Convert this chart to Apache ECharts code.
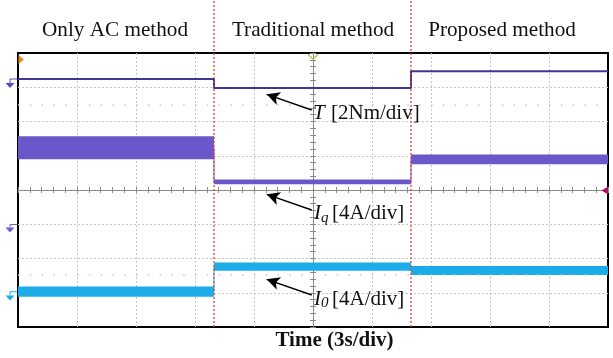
<!DOCTYPE html>
<html><head><meta charset="utf-8">
<script src="https://cdn.jsdelivr.net/npm/echarts@6/dist/echarts.min.js"></script>
<style>html,body{margin:0;padding:0;background:#fff}#c{width:613px;height:358px}</style>
</head><body><div id="c"></div>
<script>
// ---- data (x in time divisions, 3 s/div, centred on 0; y in screen divisions) ----
const segmentTitles = ['Only AC method', 'Traditional method', 'Proposed method'];
const segStart = [-5, -1.678, 1.661];
const segEnd = [-1.678, 1.661, 5];
const switchTimes = [-1.678, 1.661];
const torqueLevel = [3.24, 2.98, 3.47];
const iqHigh = [1.57, 0.31, 1.04];
const iqLow = [0.90, 0.17, 0.75];
const i0High = [-2.82, -2.12, -2.22];
const i0Low = [-3.12, -2.36, -2.48];
const cursorRows = [2.48, -2.48];
const xLabel = 'Time (3s/div)';

const FONT = '"Liberation Serif", "Times New Roman", serif';
const chart = echarts.init(document.getElementById('c'), null, {renderer: 'canvas'});

const gridLine = {show: true, showMinLine: false, showMaxLine: false, lineStyle: {color: '#c6c6c6', type: [2, 2], width: 1}};
const tickStyle = {color: '#8a8a8a', width: 1};
function centerAxis(extra) {
  return Object.assign({
    type: 'value', gridIndex: 0,
    axisLine: {show: true, onZero: true, onZeroAxisIndex: 0, lineStyle: {color: '#8a8a8a', width: 1}},
    axisTick: {show: true, length: 3, lineStyle: tickStyle},
    minorTick: {show: true, splitNumber: 5, length: 3, lineStyle: tickStyle},
    axisLabel: {show: false},
    minorSplitLine: {show: false}
  }, extra);
}

function stepData(starts, levels) {
  const d = starts.map((s, i) => [s, levels[i]]);
  d.push([segEnd[segEnd.length - 1], levels[levels.length - 1]]);
  return d;
}
function bandSeries(lo, hi, color) {
  return {
    type: 'custom', xAxisIndex: 0, yAxisIndex: 0, z: 4, silent: true,
    data: segStart.map((s, i) => [s, segEnd[i], lo[i], hi[i]]),
    encode: {x: [0, 1], y: [2, 3]},
    renderItem: function (params, api) {
      const p0 = api.coord([api.value(0), api.value(3)]);
      const p1 = api.coord([api.value(1), api.value(2)]);
      return {type: 'rect', shape: {x: p0[0], y: p0[1], width: p1[0] - p0[0], height: p1[1] - p0[1]},
              style: {fill: color}};
    }
  };
}
function connector(lo, hi, color) {
  return {
    type: 'line', step: 'end', xAxisIndex: 0, yAxisIndex: 0, z: 4, silent: true,
    symbol: 'none', data: stepData(segStart, lo.map((v, i) => (v + hi[i]) / 2)),
    lineStyle: {color: color, width: 1}
  };
}

const arrowStyle = {color: '#000', width: 1.4, type: 'solid'};
const arrows = [
  [[-0.022, 2.336], [-0.785, 2.794]],
  [[-0.022, -0.584], [-0.785, -0.126]],
  [[-0.022, -3.066], [-0.785, -2.607]]
].map(a => [{coord: a[0], symbol: 'none'}, {coord: a[1], symbol: 'arrow', symbolSize: [10, 13]}]);

const series = [
  {
    type: 'line', step: 'end', xAxisIndex: 0, yAxisIndex: 0, z: 5, silent: true,
    symbol: 'none', data: stepData(segStart, torqueLevel),
    lineStyle: {color: '#3f3795', width: 2},
    markLine: {silent: true, animation: false, label: {show: false}, lineStyle: arrowStyle,
               emphasis: {disabled: true}, data: arrows}
  },
  bandSeries(iqLow, iqHigh, '#6a58cb'),
  Object.assign(connector(iqLow, iqHigh, '#6a58cb'), {
    markLine: {silent: true, animation: false, symbol: 'none', label: {show: false},
               lineStyle: {color: '#c8c8c8', type: [1.5, 10.3], width: 1.5},
               data: cursorRows.map(v => ({yAxis: v}))}
  }),
  bandSeries(i0Low, i0High, '#1cade9'),
  connector(i0Low, i0High, '#1cade9'),
].concat(switchTimes.map(t => ({
  type: 'line', xAxisIndex: 2, yAxisIndex: 2, symbol: 'none', silent: true, z: 6,
  data: [[t, 0], [t, 1]], lineStyle: {color: '#ee3b3b', width: 1.3, type: [2, 2]}
})));

function txt(x, y, text, size, opts) {
  return Object.assign({type: 'text', x: x, y: y, z: 100,
    style: Object.assign({text: text, font: size + 'px ' + FONT, fill: '#111', align: 'left', verticalAlign: 'middle'}, opts || {})});
}
const titleX = [115, 313, 502];
const graphic = [
  // title per section
  ...segmentTitles.map((t, i) => txt(titleX[i], 30.5, t, 21.2, {align: 'center'})),
  txt(334.5, 340.7, xLabel, 21, {align: 'center', font: 'bold 21px ' + FONT}),
  // trace labels
  txt(313, 113.5, 'T', 21, {font: 'italic 21px ' + FONT}),
  txt(331, 113.5, '[2Nm/div]', 21),
  txt(314, 213.5, 'I', 21, {font: 'italic 21px ' + FONT}),
  txt(321, 218, 'q', 15, {font: 'italic 15px ' + FONT}),
  txt(332, 213.5, '[4A/div]', 21),
  txt(314, 299, 'I', 21, {font: 'italic 21px ' + FONT}),
  txt(321, 303.5, '0', 15, {font: 'italic 15px ' + FONT}),
  txt(332, 299, '[4A/div]', 21),
  // scope markers
  {type: 'polygon', z: 100, shape: {points: [[18.5, 55], [24, 59.5], [18.5, 64]]}, style: {fill: '#f08c1a'}},
  {type: 'polyline', z: 100, shape: {points: [[17, 79], [10, 79], [10, 83]]}, style: {stroke: '#5a4bb0', lineWidth: 1, fill: null}},
  {type: 'polygon', z: 100, shape: {points: [[5.5, 83], [14.5, 83], [10, 88]]}, style: {fill: '#5a4bb0'}},
  {type: 'polyline', z: 100, shape: {points: [[17, 224.5], [10, 224.5], [10, 227.5]]}, style: {stroke: '#6e5fd0', lineWidth: 1, fill: null}},
  {type: 'polygon', z: 100, shape: {points: [[5.5, 227.5], [14.5, 227.5], [10, 232.5]]}, style: {fill: '#6e5fd0'}},
  {type: 'polyline', z: 100, shape: {points: [[17, 291.7], [10, 291.7], [10, 295.5]]}, style: {stroke: '#1cade9', lineWidth: 1, fill: null}},
  {type: 'polygon', z: 100, shape: {points: [[5.5, 295.5], [14.5, 295.5], [10, 300.5]]}, style: {fill: '#1cade9'}},
  {type: 'polyline', z: 100, shape: {points: [[308, 54.5], [313, 59], [318, 54.5]]}, style: {stroke: '#b9b850', lineWidth: 1.3, fill: null}},
  {type: 'polygon', z: 100, shape: {points: [[608, 186.5], [601.5, 190.5], [608, 194.5]]}, style: {fill: '#b0105c'}}
];

chart.setOption({
  animation: false,
  backgroundColor: '#fff',
  grid: [
    {left: 18, top: 53, width: 590, height: 274, show: true, borderColor: '#000', borderWidth: 2,
     backgroundColor: 'transparent', containLabel: false, outerBoundsMode: 'none'},
    {left: 18, top: 0, width: 590, height: 327, show: false, containLabel: false, outerBoundsMode: 'none'}
  ],
  xAxis: [
    centerAxis({min: -5, max: 5, interval: 1, position: 'bottom', splitLine: gridLine}),
    centerAxis({min: -5, max: 5, interval: 1, position: 'top', splitLine: {show: false}}),
    {type: 'value', gridIndex: 1, min: -5, max: 5, show: false}
  ],
  yAxis: [
    centerAxis({min: -4, max: 4, interval: 1, position: 'left', splitLine: gridLine}),
    centerAxis({min: -4, max: 4, interval: 1, position: 'right', splitLine: {show: false}}),
    {type: 'value', gridIndex: 1, min: 0, max: 1, show: false}
  ],
  series: series,
  graphic: graphic
});
</script>
</body></html>
